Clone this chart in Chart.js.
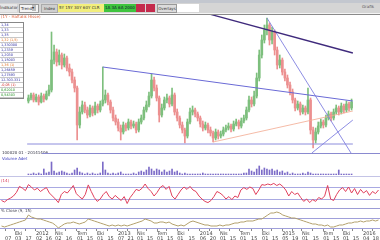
<!DOCTYPE html>
<html><head><meta charset="utf-8">
<script src="https://cdn.jsdelivr.net/npm/chart.js@4"></script>
<style>
html,body{margin:0;padding:0;width:380px;height:240px;overflow:hidden;background:#fff;font-family:"DejaVu Sans",sans-serif;}
.a{position:absolute;white-space:nowrap;line-height:1;}
canvas{position:absolute;left:0;}
#legend{position:absolute;left:0;top:22px;width:23px;border:1px solid #888;border-left:none;background:#fff;z-index:5;}
#legend div{height:4px;font-size:3.4px;line-height:4px;border-bottom:1px solid #c8c8c8;overflow:hidden;padding-left:1px;}
</style></head><body>

<!-- toolbar -->
<div class="a" style="left:0;top:0;width:380px;height:3px;background:#c3c7cf;"></div>
<div class="a" style="left:0;top:3px;width:380px;height:10px;background:#d5d5d5;"></div>
<div class="a" style="left:0;top:13px;width:380px;height:1px;background:#f4f4f4;"></div>
<div class="a" style="left:0;top:14px;width:380px;height:1px;background:#8a8a8a;"></div>
<div class="a" style="left:0;top:4px;width:17px;height:8px;background:#e6e6e6;font-size:4px;line-height:8px;color:#333;">İndikatör</div>
<div class="a" style="left:19px;top:4px;width:17px;height:7px;background:#f4f4f4;border:1px solid #999;font-size:4px;line-height:7px;color:#333;padding-left:1px;">Trend</div>
<div class="a" style="left:32px;top:5px;width:4px;height:6px;background:#bbb;font-size:4px;line-height:6px;color:#222;">▾</div>
<div class="a" style="left:41px;top:4px;width:15px;height:7px;background:#cfcfcf;border:1px solid #aaa;font-size:4px;line-height:7px;color:#333;text-align:center;">Index</div>
<div class="a" style="left:58px;top:4px;width:46px;height:8px;background:#f2ee7c;font-size:4px;line-height:8px;color:#333;padding-left:1px;">5Y 15Y 30Y 60Y CLR</div>
<div class="a" style="left:104px;top:4px;width:32px;height:8px;background:#3fc43f;font-size:4px;line-height:8px;color:#113;padding-left:1px;">1A  3A  6A 2000</div>
<div class="a" style="left:136px;top:4px;width:9px;height:8px;background:#c42a4c;"></div>
<div class="a" style="left:146px;top:4px;width:9px;height:8px;background:#c42a4c;"></div>
<div class="a" style="left:157px;top:4px;width:18px;height:7px;background:#dcdcdc;border:1px solid #999;font-size:4px;line-height:7px;color:#333;text-align:center;">Overlays</div>
<div class="a" style="left:177px;top:4px;width:22px;height:8px;background:#fff;"></div>
<div class="a" style="left:362px;top:5px;font-size:4px;color:#555;">Grafik</div>

<div class="a" style="left:1px;top:15px;font-size:4px;color:#e0603a;z-index:6;">(1Y - Haftalık Hisse)</div>

<canvas id="main" width="380" height="138" style="top:15px"></canvas>
<div id="legend"></div>

<div class="a" style="left:2px;top:151px;font-size:4px;color:#334;">100020 01 - 20141406</div>
<div class="a" style="left:42px;top:153px;width:338px;height:1px;background:#8a8ad0;"></div>
<div class="a" style="left:2px;top:157px;font-size:4px;color:#3d3dc0;z-index:3;">Volume Adet</div>
<canvas id="vol" width="380" height="19" style="top:156px"></canvas>
<div class="a" style="left:0;top:176px;width:380px;height:1px;background:#c4c4e6;"></div>
<div class="a" style="left:1px;top:179px;font-size:4px;color:#d83050;z-index:3;">(14)</div>
<canvas id="rsi" width="380" height="30" style="top:178px"></canvas>
<div class="a" style="left:0;top:208px;width:380px;height:1px;background:#9c9cd6;"></div>
<div class="a" style="left:1px;top:209px;font-size:4px;color:#445;z-index:3;">% Close (9, 15)</div>
<canvas id="osc" width="380" height="31" style="top:209px"></canvas>

<script>
// ---- data (weekly-ish candles) ----
const opens = [1.42,1.45,1.48,1.43,1.46,1.41,1.47,1.44,1.49,1.53,1.83,1.91,1.81,1.88,1.78,1.85,1.75,1.71,1.63,1.55,
1.18,1.31,1.38,1.33,1.28,1.35,1.30,1.37,1.33,1.39,1.43,1.48,1.41,1.33,1.25,1.21,1.15,1.11,1.18,1.15,
1.21,1.17,1.19,1.13,1.21,1.25,1.33,1.38,1.47,1.63,1.55,1.45,1.28,1.35,1.43,1.45,1.39,1.48,1.31,1.25,
1.18,1.13,1.07,1.21,1.31,1.33,1.29,1.25,1.19,1.15,1.18,1.13,1.10,1.05,1.11,1.07,1.09,1.13,1.15,1.17,
1.14,1.19,1.21,1.17,1.22,1.25,1.33,1.43,1.39,1.47,1.65,1.88,2.03,2.13,2.18,2.03,2.11,1.93,1.78,1.83,
1.71,1.65,1.58,1.51,1.43,1.35,1.39,1.31,1.35,1.31,1.43,1.13,1.03,1.11,1.17,1.21,1.18,1.25,1.29,1.25,
1.31,1.35,1.31,1.37,1.33,1.39,1.35];
const highs = [1.48,1.50,1.50,1.49,1.48,1.50,1.49,1.52,1.58,2.11,1.98,1.94,1.93,1.90,1.89,1.87,1.79,1.74,1.66,1.57,
1.36,1.42,1.41,1.36,1.38,1.37,1.41,1.39,1.42,1.76,1.53,1.50,1.43,1.36,1.28,1.24,1.18,1.21,1.20,1.24,
1.23,1.22,1.21,1.24,1.28,1.36,1.42,1.51,1.69,1.66,1.58,1.47,1.39,1.46,1.49,1.47,1.55,1.50,1.34,1.27,
1.21,1.15,1.24,1.35,1.37,1.35,1.31,1.27,1.22,1.21,1.20,1.16,1.12,1.14,1.13,1.12,1.16,1.18,1.20,1.19,
1.22,1.24,1.23,1.25,1.28,1.36,1.47,1.46,1.52,1.70,1.93,2.08,2.18,2.25,2.20,2.16,2.13,1.96,1.88,1.85,
1.74,1.68,1.61,1.54,1.45,1.42,1.41,1.38,1.37,1.55,1.45,1.16,1.15,1.21,1.24,1.23,1.28,1.32,1.31,1.34,
1.38,1.37,1.40,1.39,1.42,1.41,1.44];
const lows = [1.40,1.43,1.41,1.41,1.38,1.40,1.41,1.43,1.47,1.51,1.79,1.77,1.78,1.74,1.76,1.72,1.67,1.60,1.51,1.03,
1.15,1.29,1.30,1.25,1.26,1.27,1.28,1.30,1.31,1.37,1.40,1.38,1.30,1.22,1.18,1.12,1.03,1.09,1.12,1.13,
1.14,1.15,1.10,1.11,1.19,1.23,1.31,1.36,1.45,1.52,1.42,1.21,1.26,1.33,1.40,1.36,1.37,1.28,1.22,1.15,
1.10,1.00,1.05,1.19,1.28,1.26,1.22,1.16,1.12,1.13,1.10,1.07,1.01,1.03,1.04,1.05,1.07,1.11,1.13,1.11,
1.12,1.17,1.14,1.15,1.20,1.23,1.31,1.36,1.37,1.45,1.62,1.85,2.00,2.08,1.98,1.99,1.88,1.74,1.75,1.68,
1.62,1.55,1.48,1.40,1.32,1.33,1.28,1.29,1.28,1.29,1.09,0.95,1.00,1.09,1.15,1.15,1.16,1.23,1.22,1.23,
1.29,1.28,1.29,1.30,1.31,1.32,1.33];
const closes = [1.45,1.48,1.43,1.46,1.41,1.47,1.44,1.49,1.53,1.83,1.91,1.81,1.88,1.78,1.85,1.75,1.71,1.63,1.55,1.18,
1.31,1.38,1.33,1.28,1.35,1.30,1.37,1.33,1.39,1.43,1.48,1.41,1.33,1.25,1.21,1.15,1.11,1.18,1.15,1.21,
1.17,1.19,1.13,1.21,1.25,1.33,1.38,1.47,1.63,1.55,1.45,1.28,1.35,1.43,1.45,1.39,1.48,1.31,1.25,1.18,
1.13,1.07,1.21,1.31,1.33,1.29,1.25,1.19,1.15,1.18,1.13,1.10,1.05,1.11,1.07,1.09,1.13,1.15,1.17,1.14,
1.19,1.21,1.17,1.22,1.25,1.33,1.43,1.39,1.47,1.65,1.88,2.03,2.13,2.18,2.03,2.11,1.93,1.78,1.83,1.71,
1.65,1.58,1.51,1.43,1.35,1.39,1.31,1.35,1.31,1.43,1.13,1.03,1.11,1.17,1.21,1.18,1.25,1.29,1.25,1.31,
1.35,1.31,1.37,1.33,1.39,1.35,1.41];
const volumes = [1,1,2,1,2,1,6,2,3,13,4,2,3,4,3,2,1,2,5,7,
3,2,1,2,1,2,1,1,2,13,5,2,1,2,1,2,3,1,1,1,
1,2,1,3,4,3,5,8,6,4,6,5,3,5,3,4,6,3,4,2,
1,2,1,1,1,1,1,1,2,1,1,1,1,1,1,1,1,1,1,1,
1,1,1,1,2,2,6,4,3,6,9,5,7,6,5,6,4,5,3,4,
2,3,1,2,1,1,1,2,1,3,2,1,1,1,1,1,1,1,1,1,
1,5,1,1,1,1,1];
const rsi = [25,20,28,33,40,52,72,66,58,78,70,60,66,55,62,68,50,40,30,18,
45,55,50,62,75,48,38,30,45,77,55,35,22,30,45,55,38,30,42,33,
25,38,15,35,48,62,58,66,80,65,55,40,52,68,75,62,72,40,30,45,
60,70,62,72,60,55,40,30,22,18,25,38,55,50,42,30,38,28,40,35,
60,68,62,70,65,45,60,78,76,80,77,82,75,80,72,60,40,55,45,50,
35,22,30,18,28,22,35,30,40,75,30,25,45,60,68,55,70,50,65,45,
62,50,58,42,55,48,60];
const osc = [-3,-4,-3,-2,-1,0,1,2,3,8,6,5,4,4,3,2,1,0,-2,-5,
-3,-1,0,0,1,0,-1,0,1,4,3,2,1,0,-1,-2,-3,-2,-3,-2,
-3,-2,-3,-2,-1,0,1,2,4,3,2,0,0,1,1,0,1,-1,-2,-3,
-2,-3,-1,1,2,1,0,-1,-2,-2,-3,-3,-3,-2,-3,-2,-2,-1,0,0,
1,1,2,2,2,3,4,4,6,8,10,10,11,10,8,7,6,5,5,4,
3,2,1,0,-1,-1,-2,-2,-3,-2,-4,-4,-3,-2,-2,-1,0,0,1,1,
2,1,2,2,3,2,3];
// trend lines (candle index, price)
const trendTopX = [70.5,126.5],  trendTopY = [2.29,1.90];
const trendMidX = [29,126.5],    trendMidY = [1.76,1.42];
const trendDownX = [93,126.5],   trendDownY = [2.25,0.87];
const trendUpX = [110.5,126.5],  trendUpY = [0.90,1.23];
const trendLowX = [72,126.5],    trendLowY = [1.01,1.32];
const supportX = [-0.5,126.5],   supportY = [0.99,0.99];
// x axis ticks
const tickPos = [1.2,4.5,8,11.5,14.7,17.9,21.5,25.2,28.5,31.9,35.4,38.9,42.1,45.3,48.6,52.0,55.3,58.7,62.5,66.3,69.6,73.0,76.3,79.7,83.4,87.1,90.4,93.8,97.1,100.4,104,107.5,110.8,114.1,117.4,120.8,124];
const tickTop = ['','Eki','','2012','','Nis','','Tem','','Eki','','2013','','Nis','','Tem','','Eki','','2014','','Nis','','Tem','','Eki','','2015','','Nis','','Tem','','Eki','','2016',''];
const tickBottom = ['07','03','17','02','16','02','16','01','15','01','15','07','21','01','15','01','15','01','15','06','20','01','15','01','15','01','15','05','19','01','15','01','15','01','15','04','18'];
const legendRows = [['1,34','#2a2aa0'],['1,33','#2a2aa0'],['1,35','#2a2aa0'],['1,32 (1,5)','#e07020'],['1,330300','#2a2aa0'],['1,2339','#2a2aa0'],['1,2030','#2a2aa0'],['1,15003','#2a2aa0'],['1,36 (1)','#e07020'],['1,26459','#2a2aa0'],['1,27893','#2a2aa0'],['12.303.331','#2a2aa0'],['-0,05 (1)','#d02020'],['0,62010','#209020'],['0,54303','#209020']];

// ---- legend table ----
const lg = document.getElementById('legend');
legendRows.forEach(r => { const d = document.createElement('div'); d.textContent = r[0]; d.style.color = r[1]; lg.appendChild(d); });

// ---- charts ----
const N = closes.length;
const idx = closes.map((_, i) => i);
const XMIN = -0.5, XMAX = N - 0.5;
const UP = '#7dbf7d', DOWN = '#ec9090';
const candleColor = ctx => closes[ctx.dataIndex] >= opens[ctx.dataIndex] ? UP : DOWN;
const base = {responsive:false, animation:false, events:[], layout:{padding:0},
  plugins:{legend:{display:false}, tooltip:{enabled:false}}};
const pts = (xs, ys) => xs.map((x, k) => ({x, y: ys[k]}));
const lineDs = (xs, ys, color, w) => ({type:'line', data: pts(xs, ys), borderColor: color, borderWidth: w, pointRadius: 0, tension: 0, order: 0});

new Chart(document.getElementById('main'), {
  type:'bar',
  data:{datasets:[
    lineDs(trendTopX, trendTopY, '#3f2a7c', 1.3),
    lineDs(trendMidX, trendMidY, '#6a6ad6', 1),
    lineDs(trendDownX, trendDownY, '#8080e0', 0.9),
    lineDs(trendUpX, trendUpY, '#8080e0', 0.9),
    lineDs(trendLowX, trendLowY, '#f2aa90', 0.8),
    lineDs(supportX, supportY, '#8c8cdc', 1),
    {data: idx.map(i => ({x:i, y:[lows[i], highs[i]]})), backgroundColor: candleColor, barThickness: 1, grouped:false, order: 2},
    {data: idx.map(i => ({x:i, y:[opens[i], closes[i]]})), backgroundColor: candleColor, barThickness: 2, grouped:false, order: 1}
  ]},
  options:{...base, scales:{
    x:{type:'linear', min:XMIN, max:XMAX, display:false},
    y:{min:0.90, max:2.28, display:false}
  }}
});

new Chart(document.getElementById('vol'), {
  type:'bar',
  data:{datasets:[{data: idx.map(i => ({x:i, y:volumes[i]})), backgroundColor:'#7c6cc8', barThickness:1}]},
  options:{...base, scales:{
    x:{type:'linear', min:XMIN, max:XMAX, display:false},
    y:{min:0, max:19, display:false}
  }}
});

const refAxis = (min, max, levels, color) => ({min, max, display:true,
  afterBuildTicks: s => { s.ticks = levels.map(v => ({value:v})); },
  ticks:{display:false}, border:{display:false},
  grid:{color, lineWidth:1, drawTicks:false}});

new Chart(document.getElementById('rsi'), {
  type:'line',
  data:{datasets:[{data: idx.map(i => ({x:i, y:rsi[i]})), borderColor:'#e0405c', borderWidth:1, pointRadius:0, tension:0}]},
  options:{...base, scales:{
    x:{type:'linear', min:XMIN, max:XMAX, display:false},
    y: refAxis(0, 100, [30, 70], '#a9a9e2')
  }}
});

new Chart(document.getElementById('osc'), {
  type:'line',
  data:{datasets:[{data: idx.map(i => ({x:i, y:osc[i]})), borderColor:'#b3a06c', borderWidth:1, pointRadius:0, tension:0}]},
  options:{...base, scales:{
    x:{type:'linear', min:XMIN, max:XMAX, display:true, position:'bottom',
      afterBuildTicks: s => { s.ticks = tickPos.map(v => ({value:v})); },
      afterFit: s => { s.paddingLeft = 0; s.paddingRight = 0; s.height = 11; },
      border:{display:false},
      grid:{drawOnChartArea:false, drawTicks:true, tickLength:2, color:'#888'},
      ticks:{autoSkip:false, maxRotation:0, align:'start', padding:0, color:'#444',
        font:{size:5, family:'DejaVu Sans', lineHeight:1.0},
        callback:(v, k) => [tickTop[k], tickBottom[k]]}
    },
    y: refAxis(-6, 14, [-5, 5], '#a0a0da')
  }}
});
</script>
</body></html>
